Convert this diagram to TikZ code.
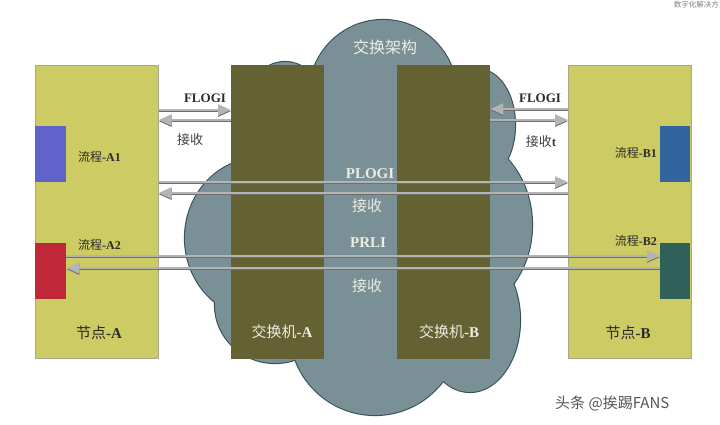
\documentclass[tikz,border=0pt]{standalone}
\usepackage{fontspec}
\setmainfont{Liberation Serif}
\newfontfamily\cjk{Noto Sans CJK SC}
\usetikzlibrary{arrows.meta}
\definecolor{nodefill}{HTML}{CDCB64}
\definecolor{nodeline}{HTML}{A8A890}
\definecolor{swfill}{HTML}{646132}
\definecolor{cloudfill}{HTML}{7A9097}
\definecolor{cloudline}{HTML}{3A5257}
\definecolor{pA1}{HTML}{6262CC}
\definecolor{pA2}{HTML}{C0283A}
\definecolor{pB1}{HTML}{32649E}
\definecolor{pB2}{HTML}{30605A}
\definecolor{arrlight}{HTML}{B4B4B4}
\definecolor{arrdark}{HTML}{6E6E6E}
\definecolor{lighttext}{HTML}{ECECE2}
\definecolor{darktext}{HTML}{2A2A2A}
\definecolor{wmgray}{HTML}{555555}
\begin{document}
\begin{tikzpicture}[x=1pt,y=-1pt,
  nodebox/.style={draw=nodeline, line width=0.6pt, fill=nodefill, anchor=north west, inner sep=0pt, minimum width=123pt, minimum height=293pt},
  swbox/.style={fill=swfill, anchor=north west, inner sep=0pt, minimum width=93pt, minimum height=294pt},
  procbox/.style={anchor=north west, inner sep=0pt, minimum width=31pt, minimum height=56pt},
  flow/.style={draw=arrlight, line width=2.4pt, -{Triangle[length=13pt,width=11pt]}, preaction={draw=arrdark, line width=2.4pt, transform canvas={yshift=-1.1pt}}},
  lbl/.style={inner sep=0pt, text=darktext},
  wlbl/.style={inner sep=0pt, text=lighttext},
  cloudedge/.style={draw=cloudline, line width=2.2pt},
]
\useasboundingbox (0,0) rectangle (720,424);
% cloud
\foreach \cx/\cy/\rx/\ry in {383/95/74/75, 285/110/40/48, 260/238/75/80, 275/305/60/58, 375/330/85/85, 470/320/50/72, 455/225/77/90, 480/125/35/55}
  \path[cloudedge] (\cx,\cy) ellipse [x radius=\rx, y radius=\ry];
\foreach \cx/\cy/\rx/\ry in {383/95/74/75, 285/110/40/48, 260/238/75/80, 275/305/60/58, 375/330/85/85, 470/320/50/72, 455/225/77/90, 480/125/35/55}
  \fill[cloudfill] (\cx,\cy) ellipse [x radius=\rx, y radius=\ry];
\fill[cloudfill] (310,90) rectangle (460,360);
\node[wlbl, font=\cjk\fontsize{16}{16}\selectfont] (fabric) at (385,47) {交换架构};
% end nodes and switches
\node[nodebox] (nA) at (35,65) {};
\node[nodebox] (nB) at (568,65) {};
\node[swbox] (swA) at (231,65) {};
\node[swbox] (swB) at (397,65) {};
\node[procbox, fill=pA1] (pa1) at (35,126) {};
\node[procbox, fill=pA2] (pa2) at (35,243) {};
\node[procbox, fill=pB1, minimum width=30pt] (pb1) at (660,126) {};
\node[procbox, fill=pB2, minimum width=30pt] (pb2) at (660,243) {};
% labels
\node[lbl, anchor=west, font=\fontsize{12}{12}\selectfont] (la1) at (78,157) {{\cjk 流程}\textbf{-A1}};
\node[lbl, anchor=west, font=\fontsize{12}{12}\selectfont] (la2) at (78,245) {{\cjk 流程}\textbf{-A2}};
\node[lbl, anchor=east, font=\fontsize{12}{12}\selectfont] (lb1) at (657,153) {{\cjk 流程}\textbf{-B1}};
\node[lbl, anchor=east, font=\fontsize{12}{12}\selectfont] (lb2) at (657,241) {{\cjk 流程}\textbf{-B2}};
\node[lbl, font=\fontsize{15}{15}\selectfont] (lnA) at (99,333) {{\cjk 节点}\textbf{-A}};
\node[lbl, font=\fontsize{15}{15}\selectfont] (lnB) at (628,333) {{\cjk 节点}\textbf{-B}};
\node[wlbl, font=\fontsize{15}{15}\selectfont] (lswA) at (282,332) {{\cjk 交换机}\textbf{-A}};
\node[wlbl, font=\fontsize{15}{15}\selectfont] (lswB) at (449,332) {{\cjk 交换机}\textbf{-B}};
% arrows
\draw[flow] (nA.east |- 0,110) -- (swA.west |- 0,110);
\draw[flow] (swA.west |- 0,120) -- (nA.east |- 0,120);
\draw[flow] (nB.west |- 0,109) -- (swB.east |- 0,109);
\draw[flow] (swB.east |- 0,120) -- (nB.west |- 0,120);
\draw[flow] (nA.east |- 0,182) -- (nB.west |- 0,182);
\draw[flow] (nB.west |- 0,193) -- (nA.east |- 0,193);
\draw[flow] (pa2.east |- 0,256) -- (pb2.west |- 0,256);
\draw[flow] (pb2.west |- 0,268) -- (pa2.east |- 0,268);
% arrow labels
\node[lbl, font=\bfseries\fontsize{13}{13}\selectfont] (fl1) at (205,98) {FLOGI};
\node[lbl, text=black!75, font=\cjk\fontsize{13}{13}\selectfont] (ac1) at (190,140) {接收};
\node[lbl, font=\bfseries\fontsize{13}{13}\selectfont] (fl2) at (540,98) {FLOGI};
\node[lbl, text=black!75, font=\fontsize{13}{13}\selectfont] (ac2) at (541,142) {{\cjk 接收}\textbf{t}};
\node[wlbl, font=\bfseries\fontsize{15}{15}\selectfont] (pl) at (370,174) {PLOGI};
\node[wlbl, font=\cjk\fontsize{15}{15}\selectfont] (ac3) at (367,206) {接收};
\node[wlbl, font=\bfseries\fontsize{15}{15}\selectfont] (pr) at (368,243) {PRLI};
\node[wlbl, font=\cjk\fontsize{15}{15}\selectfont] (ac4) at (367,286) {接收};
% watermarks
\node[inner sep=0pt, text=wmgray, font=\cjk\fontsize{15}{15}\selectfont, anchor=west] (wm) at (555,403) {头条 @挨踢FANS};
\node[inner sep=0pt, text=black!50, font=\cjk\fontsize{7.5}{7.5}\selectfont, anchor=east] (tr) at (719,5) {数字化解决方};
\end{tikzpicture}
\end{document}
